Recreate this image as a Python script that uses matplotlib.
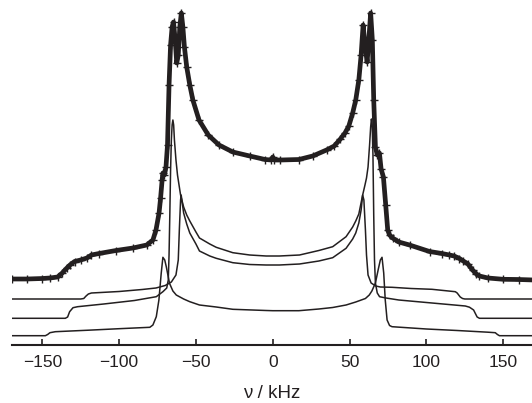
import numpy as np
import matplotlib
matplotlib.use("Agg")
from matplotlib import pyplot as plt

plt.rcParams['font.family'] = ['Liberation Sans', 'DejaVu Sans']

# experimental spectrum (kHz, intensity a.u.)
exp_khz = [-170, -160, -150, -145, -140, -137, -134, -132, -129, -125, -121, -118, -113,
           -102, -91, -82, -78, -76, -74, -73, -72, -71.5, -70.5, -69.5, -68.5, -67.5,
           -66.5, -65.5, -64.6, -63.5, -62.5, -61.5, -60.5, -59.5, -58.5, -57.5, -56,
           -54, -52, -48, -42, -35, -26, -15, -5, -1, 0, 1, 5, 17, 26, 35, 40, 44, 47,
           49.5, 52, 54, 56, 57.5, 58.8, 60, 61.4, 62.5, 63.7, 64.8, 65.7, 66.8, 68,
           69.4, 70.5, 72, 73.5, 74.8, 76, 78, 82, 89, 102, 110, 115, 118, 121.5, 124,
           127, 130, 132.5, 134.5, 140, 150, 160, 170]
exp_int = [66, 66, 66.5, 67, 68, 72, 77, 80, 83.5, 85, 87, 90, 91.5,
           94.5, 97, 100, 105, 115, 132, 147, 165, 172, 170, 178, 200, 260,
           300, 318, 323, 305, 282, 290, 318, 332, 318, 298, 278,
           260, 245, 225, 210, 200, 193, 189, 185.5, 185, 188, 185, 185, 185.5, 189, 195, 199, 206, 212,
           219, 232, 245, 265, 290, 320, 300, 283, 305, 332, 305, 245, 198, 190,
           192, 176, 168, 140, 115, 110, 107, 103, 100, 93.5, 91.5, 90, 89, 86.5, 84,
           81, 75, 71, 69, 67, 65.7, 65.5, 65]

# component 1 (horns ~ +/-60 kHz)
c1_khz = [-170, -125, -123, -121.5, -120, -118, -100, -85, -76, -70, -66, -63, -61.5,
          -60.8, -60, -59.6, -59, -58, -56, -54, -50, -47.7, -41, -36.8, -26, -15, -4.3,
          0, 4.3, 17.4, 30, 39, 47.7, 52, 54, 56, 57.5, 58.5, 59.3, 60.3, 61, 62, 64, 67,
          70, 77.6, 90, 103.6, 118.8, 120, 121, 122, 123.5, 125, 170]
c1_int = [46, 46, 46.5, 49, 51, 52, 53.5, 55.5, 57, 59.5, 63, 70, 85,
          115, 145, 150, 143, 132, 121, 112, 101, 94, 89, 86.7, 82.3, 80.5, 80,
          80, 80, 81, 84, 87.3, 96.7, 106, 112, 122, 135, 150, 145, 115, 90, 70, 62, 59,
          58, 57.7, 56.5, 55.7, 53.3, 52, 50, 48, 46.5, 46, 46]

# component 2 (horns ~ +/-65 kHz)
c2_khz = [-170, -135, -133.5, -132.2, -130, -127, -110, -90, -75.8, -71.5, -69, -68,
          -67.5, -67, -66.5, -66, -65.5, -65, -64.5, -64, -63, -62, -61, -60, -58, -56,
          -54, -50, -47.7, -41, -36.8, -26, -15, -4.3, 0, 4.3, 17.4, 30, 39, 47.7, 52,
          54, 56, 58.5, 60, 61, 62, 63, 63.7, 64.2, 64.7, 65.2, 65.7, 66.2, 66.8, 68,
          69.5, 73.7, 82, 100, 125.3, 128, 130.7, 132, 133, 134.5, 170]
c2_int = [26.7, 26.7, 28, 33.3, 37.3, 38.3, 41, 44.5, 48.3, 53.3, 57, 65,
          90, 130, 175, 205, 220, 225, 220, 205, 185, 170, 160, 150, 138, 130,
          124, 113, 107, 101, 97.7, 92.3, 90, 89, 89, 89, 90, 94.5, 98.3, 108.3, 118,
          124, 131, 150, 160, 167, 178, 200, 218, 226, 220, 190, 130, 85, 62, 52,
          48.3, 47, 45, 42.5, 39, 37.8, 35, 31, 28, 26.7, 26.7]

# component 3 (horns ~ +/-71 kHz)
c3_khz = [-170, -148, -146.5, -145, -141.5, -120, -100, -80, -78, -75.8, -74.1, -72.6,
          -71.5, -70.3, -69.3, -67.2, -65, -62.8, -58, -54, -47.7, -36.8, -26, -4.3, 0,
          17, 30, 39, 47.7, 54, 60.3, 62.8, 64.5, 66.8, 68.7, 70, 71.1, 72.2, 73.2, 74.4,
          76, 77.6, 100, 120, 140, 144.8, 146.2, 147.5, 170]
c3_int = [9.3, 9.3, 10.5, 12.3, 13.3, 14.8, 16.3, 17.7, 20, 28.3, 45, 71.7,
          87.7, 85, 78.3, 61.7, 54, 50, 46, 43.3, 40, 38, 35.7, 34.5, 34.3,
          34.3, 36, 37.5, 40, 43, 46.5, 50, 54, 62, 76, 85, 87.7, 72, 45, 25,
          19.5, 18.3, 16, 14.5, 12.8, 12.3, 10.5, 9.3, 9.3]

ticks = [-150, -100, -50, 0, 50, 100, 150]
col = '#231f20'

fig = plt.figure(figsize=(5.32, 4.03), dpi=100)
ax = fig.add_axes([12/532, 58/403, 520/532, 345/403])

ax.plot(exp_khz, exp_int, color=col, lw=3.4, marker='+', ms=5.5, mew=1.0)
for xs, ys in [(c1_khz, c1_int), (c2_khz, c2_int), (c3_khz, c3_int)]:
    ax.plot(xs, ys, color=col, lw=1.1)

ax.set_xlim(-169.7, 168.7)
ax.set_ylim(0, 345)
ax.set_xticks(ticks)
ax.set_xticklabels([str(t).replace('-', '\u2212') for t in ticks])
ax.set_yticks([])
for s in ['left', 'right', 'top']:
    ax.spines[s].set_visible(False)
ax.spines['bottom'].set_linewidth(1.5)
ax.spines['bottom'].set_color(col)
ax.tick_params(axis='x', direction='in', length=4, width=1.2, color=col,
               labelsize=12.5, pad=7, labelcolor=col)
ax.set_xlabel('ν / kHz', fontsize=13.5, color=col, labelpad=11)

fig.savefig('out.png', dpi=100)
